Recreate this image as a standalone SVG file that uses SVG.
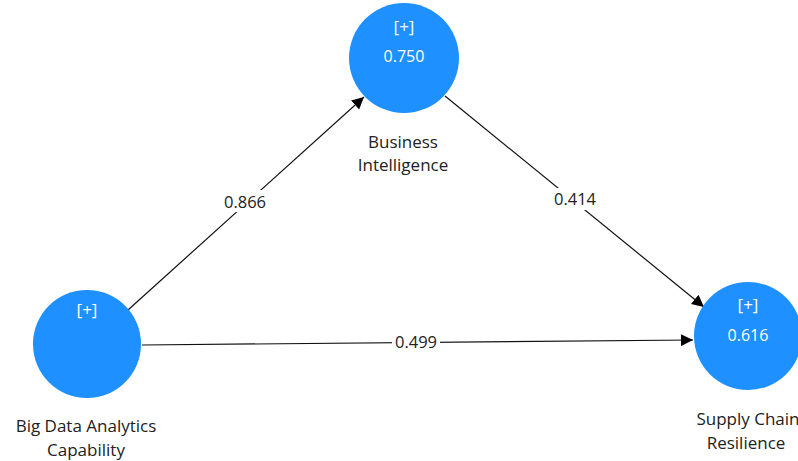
<svg xmlns="http://www.w3.org/2000/svg" width="798" height="461" viewBox="0 0 798 461">
  <style>
    .node { fill: #1e90ff; }
    .tag { font-family: "Open Sans", "Noto Sans", sans-serif; font-size: 17px; fill: #ffffff; text-anchor: middle; }
    .val { font-family: "Open Sans", "Noto Sans", sans-serif; font-size: 16px; fill: #ffffff; text-anchor: middle; }
    .name { font-family: "Open Sans", "Noto Sans", sans-serif; font-size: 17px; fill: #222222; text-anchor: middle; }
    .edge { stroke: #111111; stroke-width: 1.2; fill: none; marker-end: url(#arrow); }
    .coef { font-family: "Open Sans", "Noto Sans", sans-serif; font-size: 16.5px; fill: #222222; text-anchor: middle; }
    .bg { fill: #ffffff; }
  </style>
  <defs>
    <marker id="arrow" viewBox="0 0 10 10" refX="10" refY="5" markerWidth="12" markerHeight="12" markerUnits="userSpaceOnUse" orient="auto">
      <path d="M0,0 L10,5 L0,10 z" fill="#000000"/>
    </marker>
  </defs>
  <rect width="798" height="461" fill="#ffffff"/>

  <g id="connectors">
    <line class="edge" x1="128" y1="310" x2="364" y2="97"/>
    <line class="edge" x1="445" y1="96" x2="704" y2="307"/>
    <line class="edge" x1="142" y1="345" x2="693" y2="340"/>
    <rect class="bg" x="221" y="190" width="48" height="22"/>
    <text class="coef" x="245" y="208">0.866</text>
    <rect class="bg" x="551" y="188" width="48" height="22"/>
    <text class="coef" x="575" y="205">0.414</text>
    <rect class="bg" x="392" y="332" width="48" height="20"/>
    <text class="coef" x="416" y="348">0.499</text>
  </g>

  <g id="bi">
    <circle class="node" cx="404" cy="58" r="55"/>
    <text class="tag" x="404" y="33">[+]</text>
    <text class="val" x="404" y="62">0.750</text>
    <text class="name" x="403" y="148">Business</text>
    <text class="name" x="403" y="171">Intelligence</text>
  </g>

  <g id="bdac">
    <circle class="node" cx="87" cy="344" r="54"/>
    <text class="tag" x="87" y="316">[+]</text>
    <text class="name" x="86" y="432">Big Data Analytics</text>
    <text class="name" x="86" y="456">Capability</text>
  </g>

  <g id="scr">
    <circle class="node" cx="748" cy="336" r="54"/>
    <text class="tag" x="748" y="311">[+]</text>
    <text class="val" x="748" y="341">0.616</text>
    <text class="name" x="748" y="425">Supply Chain</text>
    <text class="name" x="746" y="449">Resilience</text>
  </g>
</svg>
